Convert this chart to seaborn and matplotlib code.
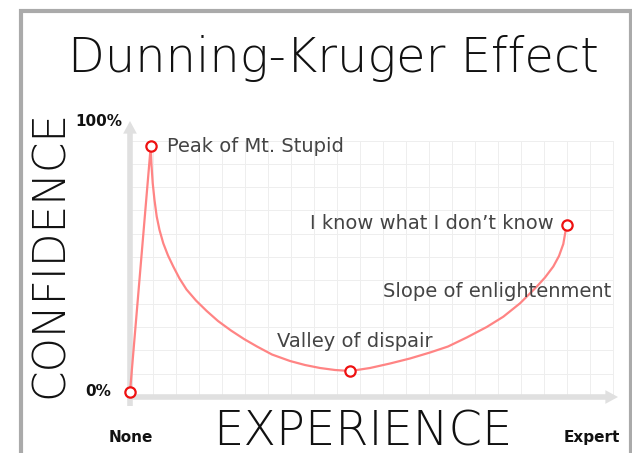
import matplotlib
matplotlib.use("Agg")
import matplotlib.pyplot as plt
from matplotlib.patches import Rectangle
import pandas as pd
import seaborn as sns

# ---------------- data ----------------
# experience: 0 = None ... 100 = Expert ; confidence in %
curve_experience = [0.0, 4.29, 4.45, 4.70, 5.07, 5.53, 6.11, 6.89, 7.87, 8.96, 10.25,
                    11.70, 13.66, 15.88, 18.22, 20.91, 23.60, 26.29, 29.40, 33.13,
                    36.23, 39.34, 42.44, 45.65, 49.69, 53.83, 57.97, 62.11, 65.84,
                    69.71, 73.85, 77.29, 80.75, 84.20, 85.92, 87.64, 88.82, 89.71, 90.41]
curve_confidence = [0.0, 91.95, 85.02, 78.28, 71.91, 65.73, 60.67, 55.69, 51.12, 47.00,
                    42.51, 38.39, 34.27, 30.34, 26.59, 23.03, 19.85, 17.04, 14.04, 11.61,
                    10.11, 8.99, 8.24, 7.87, 8.99, 10.67, 12.55, 14.79, 17.04, 20.41,
                    24.34, 28.20, 33.22, 39.44, 42.88, 47.00, 50.94, 55.43, 62.73]

milestone_experience = [0.0, 4.29, 45.65, 90.41]
milestone_confidence = [0.0, 91.95, 7.87, 62.73]
milestone_labels = ["", "Peak of Mt. Stupid", "Valley of dispair", "I know what I don\u2019t know"]
slope_label = "Slope of enlightenment"

title_text = "Dunning-Kruger Effect"
x_label = "EXPERIENCE"
y_label = "CONFIDENCE"
x_tick_labels = ["None", "Expert"]
y_tick_labels = ["0%", "100%"]

# ---------------- figure ----------------
W, H = 632, 453
sns.set_theme(style="white")
plt.rcParams["font.family"] = ["DejaVu Sans"]
fig = plt.figure(figsize=(W / 100, H / 100), dpi=100)
fig.patch.set_facecolor("white")

# pixel mapping: experience 0 -> px 130, 100 -> px 613 ; confidence 0 -> py 392, 100 -> py 125
SX, SY = 4.83, 2.67
ax = fig.add_axes([0, 0, 1, 1])

def fx(px):
    return px / W

def fy(py):
    return 1 - py / H

# outer frame
fig.patches.append(Rectangle((fx(20.5), fy(600)), (630.5 - 20.5) / W, (600 - 10.5) / H,
                             transform=fig.transFigure, fill=False,
                             edgecolor="#aaaaaa", linewidth=3.0, zorder=0))

# grid: 21 x 11 cells
gx0, gx1 = 0.0, 100.0
gy0 = (392 - 397) / SY
gy1 = (392 - 140.5) / SY
for k in range(22):
    xv = gx0 + k * (gx1 - gx0) / 21
    ax.plot([xv, xv], [gy0, gy1], color="#eeeeee", lw=0.7, zorder=1)
for k in range(12):
    yv = gy0 + k * (gy1 - gy0) / 11
    ax.plot([gx0, gx1], [yv, yv], color="#eeeeee", lw=0.7, zorder=1)

# axis arrows
axis_col = "#e0e0e0"
ax.plot([(127 - 130) / SX, (606 - 130) / SX], [gy0, gy0], color=axis_col, lw=4.0,
        solid_capstyle="butt", zorder=2)
ax.plot([0, 0], [(392 - 406) / SY, (392 - 133) / SY], color=axis_col, lw=4.0,
        solid_capstyle="butt", zorder=2)
ax.annotate("", xy=((618 - 130) / SX, gy0), xytext=((600 - 130) / SX, gy0),
            arrowprops=dict(arrowstyle="-|>,head_length=0.7,head_width=0.38",
                            color=axis_col, lw=0, mutation_scale=13,
                            shrinkA=0, shrinkB=0), zorder=2)
ax.annotate("", xy=(0, (392 - 121) / SY), xytext=(0, (392 - 140) / SY),
            arrowprops=dict(arrowstyle="-|>,head_length=0.7,head_width=0.38",
                            color=axis_col, lw=0, mutation_scale=13,
                            shrinkA=0, shrinkB=0), zorder=2)

# curve
df = pd.DataFrame({"experience": curve_experience, "confidence": curve_confidence})
sns.lineplot(data=df, x="experience", y="confidence", ax=ax, sort=False,
             estimator=None, color="#ff8484", lw=1.6, zorder=3)

# milestones
dm = pd.DataFrame({"experience": milestone_experience, "confidence": milestone_confidence})
sns.scatterplot(data=dm, x="experience", y="confidence", ax=ax, s=55,
                facecolor="white", edgecolor="#ee1111", linewidth=1.6, zorder=4)
ax.set_xlim(-130 / SX, (W - 130) / SX)
ax.set_ylim((392 - H) / SY, 392 / SY)
ax.axis("off")

P = 0.72  # px -> points
lab_kw = dict(fontsize=14, color="#444444", textcoords="offset points", va="baseline")
ax.annotate(milestone_labels[1], (milestone_experience[1], milestone_confidence[1]),
            xytext=(16.5 * P, -6 * P), ha="left", **lab_kw)
ax.annotate(milestone_labels[2], (milestone_experience[2], milestone_confidence[2]),
            xytext=(4 * P, 23.5 * P), ha="center", **lab_kw)
ax.annotate(milestone_labels[3], (milestone_experience[3], milestone_confidence[3]),
            xytext=(-13 * P, -4.5 * P), ha="right", **lab_kw)
fig.text(fx(383), fy(297), slope_label, fontsize=14, color="#444444",
         ha="left", va="baseline")

# bold tick labels
bold_kw = dict(fontsize=11, fontweight="bold", color="#111111")
fig.text(fx(122), fy(126), y_tick_labels[1], ha="right", va="baseline", **bold_kw)
fig.text(fx(111), fy(396), y_tick_labels[0], ha="right", va="baseline", **bold_kw)
fig.text(fx(130.5), fy(442), x_tick_labels[0], ha="center", va="baseline", **bold_kw)
fig.text(fx(620), fy(442), x_tick_labels[1], ha="right", va="baseline", **bold_kw)

# large thin texts
big_kw = dict(family=["DejaVu Sans"], fontweight=200, color="#111111")
fig.text(fx(333), fy(72), title_text, ha="center", va="baseline", fontsize=34.5, **big_kw)
fig.text(fx(362.5), fy(446), x_label, ha="center", va="baseline", fontsize=34.5, **big_kw)
fig.text(fx(63), fy(254), y_label, ha="center", va="baseline", rotation=90,
         rotation_mode="anchor", fontsize=31.5, **big_kw)

fig.savefig("out.png", dpi=100, facecolor="white")
